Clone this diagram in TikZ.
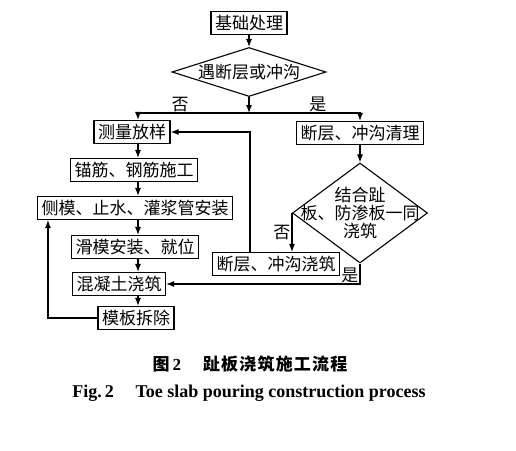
\documentclass[tikz,border=0pt]{standalone}
\usepackage{fontspec}
\setmainfont{Liberation Serif}
\newfontfamily\cjk{Noto Sans CJK SC}
\usepackage{tikz}
\usetikzlibrary{arrows.meta,shapes.geometric}

\begin{document}
\begin{tikzpicture}[x=1pt, y=-1pt, line width=1.1pt, >={Latex[length=8pt,width=6pt]},
  txt/.style={font=\cjk\fontsize{17}{18}\selectfont, inner sep=1pt},
  box/.style={txt, draw, minimum height=23pt, inner xsep=4pt},
  decision/.style={txt, draw, diamond, inner sep=0pt}]
  \useasboundingbox (0,0) rectangle (516,450);
  % left column axis, back line and branch point
  \coordinate (ax) at (138,0);
  \coordinate (bk) at (250,0);
  \coordinate (br) at (249,113);

  \node[box] (jc) at (249,23) {基础处理};
  \node[decision, minimum width=154pt, minimum height=49pt] (d1) at (249,72) {};
  \node[txt] (d1t) at (d1) {遇断层或冲沟};
  \node[box] (cl) at (132,132) {测量放样};
  \node[box] (mg) at (134,170) {锚筋、钢筋施工};
  \node[box] (cm) at (135,208) {侧模、止水、灌浆管安装};
  \node[box] (hm) at (135,247) {滑模安装、就位};
  \node[box] (hn) at (119,284) {混凝土浇筑};
  \node[box] (mb) at (136,318) {模板拆除};
  \node[box] (qc) at (360,133) {断层、冲沟清理};
  \node[decision, minimum width=135pt, minimum height=100pt] (d2) at (360,213) {};
  \node[txt, align=center] (d2t) at (d2) {结合趾\\板、防渗板一同\\浇筑};
  \node[box] (qj) at (276,264) {断层、冲沟浇筑};

  % caption
  \node[inner sep=0pt] (cap1) at (250,364)
    {\cjk\bfseries\fontsize{17}{20}\selectfont\addfontfeature{LetterSpace=7}图\,{\rmfamily\bfseries 2}\hspace{22pt}趾板浇筑施工流程};
  \node[inner sep=0pt] (cap2) at (249,393)
    {\bfseries\fontsize{18}{20}\selectfont Fig.\,2\hspace{1.2em}Toe slab pouring construction process};

  \path[->]
  (jc) edge (d1)
  (d1) edge (br)
  (qc) edge (d2)
  (cl.south -| ax) edge (mg.north -| ax)
  (mg.south -| ax) edge (cm.north -| ax)
  (cm.south -| ax) edge (hm.north -| ax)
  (hm.south -| ax) edge (hn.north -| ax)
  (hn.south -| ax) edge (mb.north -| ax)
  ;
  \draw[->] (br) -| node[txt, pos=.31, above] {否} (cl.north -| ax);
  \draw[->] (br) -| node[txt, pos=.31, above] {是} (qc);
  \draw[->] (d2.west) -- node[txt, left] {否} (qj.north -| d2.west);
  \draw[->] (d2.south) |- node[txt, pos=.5, above left] {是} (hn);
  \draw[->] (qj.north -| bk) |- (cl);
  \draw[->] (mb) -| ([xshift=11pt]cm.south west);
\end{tikzpicture}
\end{document}
